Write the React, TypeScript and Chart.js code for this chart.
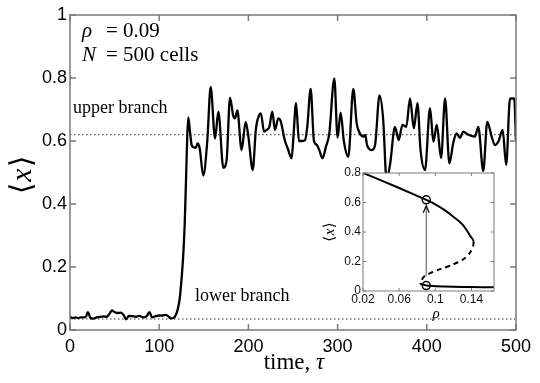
import React, { useEffect, useRef } from "react";
import { Chart, registerables } from "chart.js";

Chart.register(...registerables);

// ---------- main time series ----------
const TIME = [
  0, 3, 6, 9, 12, 15, 18, 20, 23, 26, 30, 34, 38, 41, 44, 47, 50, 53, 57, 60,
  63, 66, 70, 74, 78, 82, 86, 89, 92, 96, 100, 104, 107, 110, 113, 116, 119, 121, 123, 125,
  127, 128.5, 130, 131.5, 132.6, 134.5, 136.4, 138.5, 141, 143, 145.5, 149.4, 153.9, 157.7, 162.6, 166.3, 171.9, 175.6, 179.4, 183,
  185, 187.6, 192.4, 196.9, 200, 204.8, 208.5, 212.2, 214, 217.5, 220.5, 223.5, 226.8, 229.8, 233.5, 236, 241, 244, 248.5, 250.5,
  253.4, 256.7, 259.7, 263.5, 266, 269.8, 273.5, 276.5, 279.5, 282.9, 287, 290.7, 296.3, 300, 303.4, 307, 312, 317.6, 321.4, 325,
  329, 331, 333, 338.5, 342, 347, 351, 355, 359, 364.3, 368.5, 372.7, 377, 381.2, 385.5, 389.5, 393, 398, 403.6, 407.4,
  411.2, 416, 420.5, 425.3, 429.6, 433.4, 437.1, 441, 445, 450, 454, 457.7, 463.3, 467.8, 472.7, 476.5, 480.5, 485, 489, 493.3,
  498, 500,
];
const MEAN_X = [
  0.042, 0.038, 0.04, 0.038, 0.04, 0.04, 0.043, 0.057, 0.038, 0.036, 0.04, 0.042, 0.043, 0.042, 0.05, 0.062, 0.057, 0.054, 0.055, 0.048,
  0.034, 0.045, 0.044, 0.042, 0.045, 0.04, 0.044, 0.057, 0.04, 0.044, 0.046, 0.046, 0.048, 0.044, 0.037, 0.038, 0.05, 0.068, 0.1, 0.16,
  0.24, 0.33, 0.47, 0.62, 0.675, 0.63, 0.587, 0.58, 0.578, 0.592, 0.575, 0.49, 0.6, 0.772, 0.608, 0.693, 0.515, 0.54, 0.738, 0.68,
  0.672, 0.697, 0.571, 0.661, 0.614, 0.508, 0.64, 0.683, 0.688, 0.63, 0.635, 0.645, 0.693, 0.635, 0.672, 0.665, 0.6, 0.577, 0.545, 0.614,
  0.72, 0.6, 0.6, 0.603, 0.645, 0.765, 0.6, 0.588, 0.571, 0.545, 0.582, 0.624, 0.799, 0.611, 0.69, 0.6, 0.55, 0.765, 0.656, 0.624,
  0.614, 0.619, 0.587, 0.571, 0.587, 0.745, 0.672, 0.475, 0.53, 0.645, 0.603, 0.651, 0.645, 0.735, 0.64, 0.72, 0.571, 0.508, 0.704, 0.598,
  0.651, 0.546, 0.735, 0.529, 0.593, 0.624, 0.61, 0.63, 0.622, 0.616, 0.614, 0.645, 0.505, 0.661, 0.614, 0.587, 0.6, 0.635, 0.524, 0.735,
  0.735, 0.6,
];
const UPPER_BRANCH = 0.62;
const LOWER_BRANCH = 0.035;
const X_TICKS = [0, 100, 200, 300, 400, 500];
const Y_TICKS = [0, 0.2, 0.4, 0.6, 0.8, 1];

// ---------- inset bifurcation diagram ----------
const UPPER_RHO = [0.02, 0.04, 0.06, 0.08, 0.09, 0.1, 0.11, 0.12, 0.13, 0.1346, 0.139, 0.1415, 0.1426];
const UPPER_X = [0.8, 0.75, 0.698, 0.645, 0.618, 0.588, 0.55, 0.504, 0.452, 0.414, 0.37, 0.35, 0.334];
const UNSTABLE_RHO = [0.1426, 0.1412, 0.1346, 0.125, 0.1125, 0.1, 0.094, 0.088, 0.085, 0.083];
const UNSTABLE_X = [0.334, 0.29, 0.233, 0.195, 0.163, 0.137, 0.12, 0.1, 0.075, 0.05];
const LOWER_RHO = [0.083, 0.09, 0.1, 0.12, 0.14, 0.165];
const LOWER_X = [0.05, 0.037, 0.033, 0.029, 0.027, 0.025];
const MARKER_RHO = [0.09, 0.09];
const MARKER_X = [0.618, 0.037];
const ARROW_RHO = 0.09;
const ARROW_FROM = 0.1;
const ARROW_TO = 0.578;
const INSET_X_TICKS = [0.02, 0.06, 0.1, 0.14];
const INSET_Y_TICKS = [0, 0.2, 0.4, 0.6, 0.8];

const FRAME = "#7a7a7a";

function framePlugin(tickLen: number, width: number) {
  return {
    id: "frame",
    afterDatasetsDraw(chart: any) {
      const { ctx, chartArea: a, scales } = chart;
      ctx.save();
      ctx.strokeStyle = FRAME;
      ctx.lineWidth = width;
      ctx.strokeRect(a.left, a.top, a.right - a.left, a.bottom - a.top);
      ctx.beginPath();
      scales.x.ticks.forEach((t: any) => {
        const px = scales.x.getPixelForValue(t.value);
        ctx.moveTo(px, a.bottom);
        ctx.lineTo(px, a.bottom - tickLen);
        ctx.moveTo(px, a.top);
        ctx.lineTo(px, a.top + tickLen);
      });
      scales.y.ticks.forEach((t: any) => {
        const py = scales.y.getPixelForValue(t.value);
        ctx.moveTo(a.left, py);
        ctx.lineTo(a.left + tickLen, py);
        ctx.moveTo(a.right, py);
        ctx.lineTo(a.right - tickLen, py);
      });
      ctx.stroke();
      ctx.restore();
    },
  };
}

function drawBracketX(ctx: CanvasRenderingContext2D, cx: number, cy: number, size: number, gap: number) {
  ctx.save();
  ctx.translate(cx, cy);
  ctx.rotate(-Math.PI / 2);
  ctx.fillStyle = "#000";
  ctx.textBaseline = "alphabetic";
  const bFont = `${size}px "DejaVu Serif", "DejaVu Sans", serif`;
  const xFont = `italic ${size}px "Liberation Serif", serif`;
  ctx.font = bFont;
  const wl = ctx.measureText("⟨").width;
  const wr = ctx.measureText("⟩").width;
  ctx.font = xFont;
  const wx = ctx.measureText("x").width;
  const total = wl + wx + wr + 2 * gap;
  let x = -total / 2;
  const base = size * 0.3;
  ctx.font = bFont;
  ctx.fillText("⟨", x, base);
  x += wl + gap;
  ctx.font = xFont;
  ctx.fillText("x", x, base);
  x += wx + gap;
  ctx.font = bFont;
  ctx.fillText("⟩", x, base);
  ctx.restore();
}

const mainText = {
  id: "mainText",
  afterDraw(chart: any) {
    const ctx = chart.ctx as CanvasRenderingContext2D;
    ctx.save();
    ctx.fillStyle = "#000";
    ctx.textBaseline = "alphabetic";
    // annotation
    ctx.font = 'italic 21px "Liberation Serif", serif';
    ctx.fillText("ρ", 82, 37);
    ctx.fillText("N", 82, 61);
    ctx.font = '21px "Liberation Serif", serif';
    ctx.fillText("= 0.09", 106, 37);
    ctx.fillText("= 500 cells", 106, 61);
    ctx.font = '18px "Liberation Serif", serif';
    ctx.fillText("upper branch", 73, 113);
    ctx.fillText("lower branch", 195, 301);
    // x title
    ctx.font = '23px "Liberation Serif", serif';
    const w1 = ctx.measureText("time, ").width;
    ctx.font = 'italic 23px "Liberation Serif", serif';
    const w2 = ctx.measureText("τ").width;
    const start = 294 - (w1 + w2) / 2;
    ctx.font = '23px "Liberation Serif", serif';
    ctx.fillText("time, ", start, 369);
    ctx.font = 'italic 23px "Liberation Serif", serif';
    ctx.fillText("τ", start + w1, 369);
    ctx.restore();
    drawBracketX(ctx, 22, 175, 30, 1);
  },
};

const insetText = {
  id: "insetText",
  beforeDatasetsDraw(chart: any) {
    const { ctx, chartArea: a } = chart;
    ctx.save();
    ctx.fillStyle = "#fff";
    ctx.fillRect(a.left, a.top, a.right - a.left, a.bottom - a.top);
    ctx.restore();
  },
  afterDraw(chart: any) {
    const { ctx, scales } = chart;
    // arrow
    const px = scales.x.getPixelForValue(ARROW_RHO);
    const y0 = scales.y.getPixelForValue(ARROW_FROM);
    const y1 = scales.y.getPixelForValue(ARROW_TO);
    ctx.save();
    ctx.strokeStyle = "#555";
    ctx.lineWidth = 1;
    ctx.beginPath();
    ctx.moveTo(px, y0);
    ctx.lineTo(px, y1);
    ctx.stroke();
    ctx.strokeStyle = "#111";
    ctx.lineWidth = 1.3;
    ctx.beginPath();
    ctx.moveTo(px - 3, y1 + 7);
    ctx.lineTo(px, y1);
    ctx.lineTo(px + 3, y1 + 7);
    ctx.stroke();
    ctx.fillStyle = "#000";
    ctx.font = 'italic 15px "Liberation Serif", serif';
    ctx.textAlign = "center";
    ctx.fillText("ρ", 116, 158);
    ctx.restore();
    drawBracketX(ctx, 9, 72, 15, 0.5);
  },
};

export default function App() {
  const mainRef = useRef<HTMLCanvasElement>(null);
  const insetRef = useRef<HTMLCanvasElement>(null);

  useEffect(() => {
    const tickFont = { family: '"Liberation Sans", Arial, sans-serif', size: 18 };
    const main = new Chart(mainRef.current!, {
      type: "line",
      data: {
        datasets: [
          {
            data: TIME.map((t, i) => ({ x: t, y: MEAN_X[i] })),
            borderColor: "#000",
            borderWidth: 2.3,
            pointRadius: 0,
            cubicInterpolationMode: "monotone",
          },
          {
            data: [{ x: 0, y: UPPER_BRANCH }, { x: 500, y: UPPER_BRANCH }],
            borderColor: "#333",
            borderWidth: 1,
            borderDash: [1.5, 2.5],
            pointRadius: 0,
          },
          {
            data: [{ x: 0, y: LOWER_BRANCH }, { x: 500, y: LOWER_BRANCH }],
            borderColor: "#333",
            borderWidth: 1,
            borderDash: [1.5, 2.5],
            pointRadius: 0,
          },
        ],
      },
      options: {
        responsive: false,
        animation: false,
        devicePixelRatio: 1,
        layout: { padding: { top: 15, right: 24, left: 0, bottom: 0 } },
        plugins: { legend: { display: false }, tooltip: { enabled: false } },
        scales: {
          x: {
            type: "linear",
            min: 0,
            max: 500,
            afterBuildTicks: (s: any) => {
              s.ticks = X_TICKS.map((v) => ({ value: v }));
            },
            afterFit: (s: any) => {
              s.height = 53;
            },
            grid: { display: false, drawTicks: false },
            border: { display: false },
            ticks: {
              font: tickFont,
              color: "#000",
              padding: 6,
              maxRotation: 0,
              autoSkip: false,
              callback: (v: any) => String(v),
            },
          },
          y: {
            type: "linear",
            min: 0,
            max: 1,
            afterBuildTicks: (s: any) => {
              s.ticks = Y_TICKS.map((v) => ({ value: v }));
            },
            afterFit: (s: any) => {
              s.width = 70;
            },
            grid: { display: false, drawTicks: false },
            border: { display: false },
            ticks: {
              font: tickFont,
              color: "#000",
              padding: 3,
              autoSkip: false,
              callback: (v: any) => String(v),
            },
          },
        },
      },
      plugins: [framePlugin(6, 1.5), mainText],
    } as any);

    const insetFont = { family: '"Liberation Sans", Arial, sans-serif', size: 12 };
    const inset = new Chart(insetRef.current!, {
      type: "line",
      data: {
        datasets: [
          {
            data: UPPER_RHO.map((r, i) => ({ x: r, y: UPPER_X[i] })),
            borderColor: "#000",
            borderWidth: 2,
            pointRadius: 0,
            cubicInterpolationMode: "monotone",
            tension: 0.4,
          },
          {
            data: UNSTABLE_RHO.map((r, i) => ({ x: r, y: UNSTABLE_X[i] })),
            borderColor: "#000",
            borderWidth: 2,
            borderDash: [5, 4],
            pointRadius: 0,
            tension: 0.4,
          },
          {
            data: LOWER_RHO.map((r, i) => ({ x: r, y: LOWER_X[i] })),
            borderColor: "#000",
            borderWidth: 2,
            pointRadius: 0,
            tension: 0.3,
          },
          {
            data: MARKER_RHO.map((r, i) => ({ x: r, y: MARKER_X[i] })),
            showLine: false,
            pointRadius: 4,
            pointBorderWidth: 1.5,
            pointBorderColor: "#000",
            pointBackgroundColor: "rgba(0,0,0,0)",
          },
        ],
      },
      options: {
        responsive: false,
        animation: false,
        devicePixelRatio: 1,
        layout: { padding: { top: 13, right: 11, left: 0, bottom: 0 } },
        plugins: { legend: { display: false }, tooltip: { enabled: false } },
        scales: {
          x: {
            type: "linear",
            min: 0.02,
            max: 0.165,
            afterBuildTicks: (s: any) => {
              s.ticks = INSET_X_TICKS.map((v) => ({ value: v }));
            },
            afterFit: (s: any) => {
              s.height = 41;
            },
            grid: { display: false, drawTicks: false },
            border: { display: false },
            ticks: {
              font: insetFont,
              color: "#111",
              padding: 1,
              maxRotation: 0,
              autoSkip: false,
              callback: (v: any) => String(v),
            },
          },
          y: {
            type: "linear",
            min: 0,
            max: 0.8,
            afterBuildTicks: (s: any) => {
              s.ticks = INSET_Y_TICKS.map((v) => ({ value: v }));
            },
            afterFit: (s: any) => {
              s.width = 43;
            },
            grid: { display: false, drawTicks: false },
            border: { display: false },
            ticks: {
              font: insetFont,
              color: "#111",
              padding: 2,
              autoSkip: false,
              callback: (v: any) => String(v),
            },
          },
        },
      },
      plugins: [insetText, framePlugin(3, 1)],
    } as any);

    return () => {
      main.destroy();
      inset.destroy();
    };
  }, []);

  return (
    <div style={{ position: "fixed", left: 0, top: 0, width: 540, height: 383, background: "#fff" }}>
      <canvas ref={mainRef} width={540} height={383} style={{ position: "absolute", left: 0, top: 0 }} />
      <canvas ref={insetRef} width={185} height={172} style={{ position: "absolute", left: 320, top: 160 }} />
    </div>
  );
}
